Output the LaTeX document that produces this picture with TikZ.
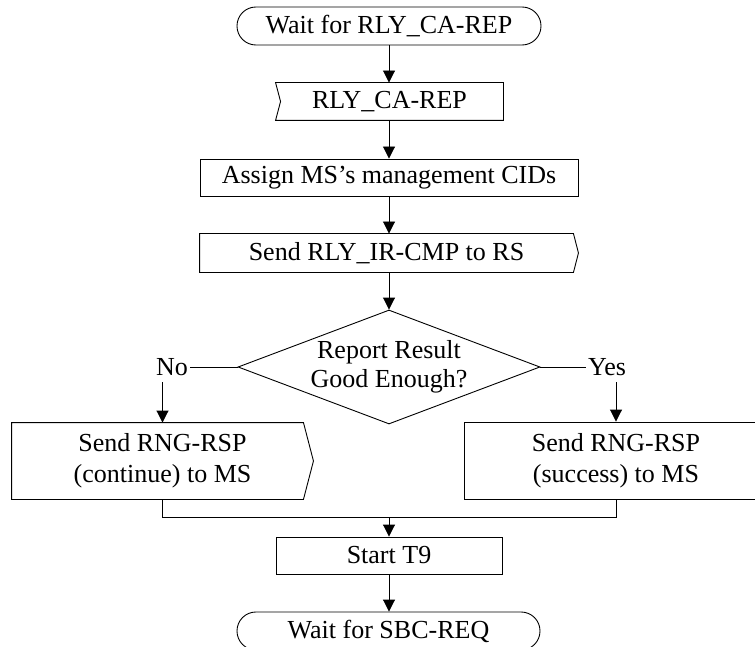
\documentclass[tikz,border=0pt]{standalone}
\usepackage{fontspec}
\setmainfont{Liberation Serif}
\usetikzlibrary{arrows.meta,shapes.geometric,calc}
\begin{document}
\begin{tikzpicture}[x=1pt,y=-1pt,
  line width=0.9pt,
  font=\fontsize{26}{31}\selectfont,
  arr/.style={-{Triangle[length=12pt,width=12pt]}},
  txt/.style={inner sep=0pt, align=center},
  term/.style={txt, draw, rounded corners=18.9pt, minimum height=38pt},
  box/.style={txt, draw, minimum height=37pt},
  lbl/.style={inner sep=2pt}
  ]
\useasboundingbox (0,0) rectangle (755,647);
\clip (0,0) rectangle (755,647);

% nodes
\node[term, minimum width=304pt] (start) at (389,26) {Wait for RLY\_CA-REP};
\node[txt, minimum width=227pt, minimum height=37pt] (recv) at (389.5,101.5) {RLY\_CA-REP};
\draw (recv.north west) -- (recv.north east) -- (recv.south east) -- (recv.south west)
      -- ([xshift=5pt]recv.west) -- cycle;
\node[box, minimum width=378pt] (assign) at (389,177.5) {Assign MS’s management CIDs};
\node[txt, minimum width=373pt, minimum height=38pt] (send) at (386.5,253) {Send RLY\_IR-CMP to RS};
\draw (send.north west) -- (send.north east) -- ([xshift=5pt]send.east) -- (send.south east)
      -- (send.south west) -- cycle;
\node[diamond, draw, aspect=2.65, minimum width=302pt, minimum height=114pt, inner sep=0pt,
      align=center, font=\fontsize{26}{29}\selectfont] (dec) at (389,367) {Report Result\\Good Enough?};
\node[lbl] (no) at (172,367) {No};
\node[lbl] (yes) at (607,367) {Yes};
\node[txt, minimum width=301pt, minimum height=76pt] (lbox) at (162.5,461) {Send RNG-RSP\\(continue) to MS};
\draw (lbox.north west) -- ([xshift=-10pt]lbox.north east) -- (lbox.east)
      -- ([xshift=-10pt]lbox.south east) -- (lbox.south west) -- cycle;
\node[box, minimum width=304pt, minimum height=77pt] (rbox) at (616,460.5) {Send RNG-RSP\\(success) to MS};
\node[box, minimum width=226pt] (t9) at (389,555.5) {Start T9};
\node[term, minimum width=303pt] (wait) at (388.5,631) {Wait for SBC-REQ};

% connectors
\draw[arr] (start.south) -- (start.south |- recv.north);
\draw[arr] (recv.south -| assign.north) -- (assign.north);
\draw[arr] (assign.south) -- (assign.south |- send.north);
\draw[arr] (dec.north |- send.south) -- (dec.north);
\draw (dec.west) -- (no.east);
\draw (dec.east) -- (yes.west);
\draw[arr] ($(lbox.north |- no.south)+(0,4)$) -- (lbox.north);
\draw[arr] ($(rbox.north |- yes.south)+(0,4)$) -- (rbox.north);
\coordinate (merge) at ($(lbox.south)+(0,18)$);
\draw (lbox.south) -- (merge) -| (rbox.south);
\draw[arr] (merge -| t9.north) -- (t9.north);
\draw[arr] (t9.south) -- (t9.south |- wait.north);
\end{tikzpicture}
\end{document}
